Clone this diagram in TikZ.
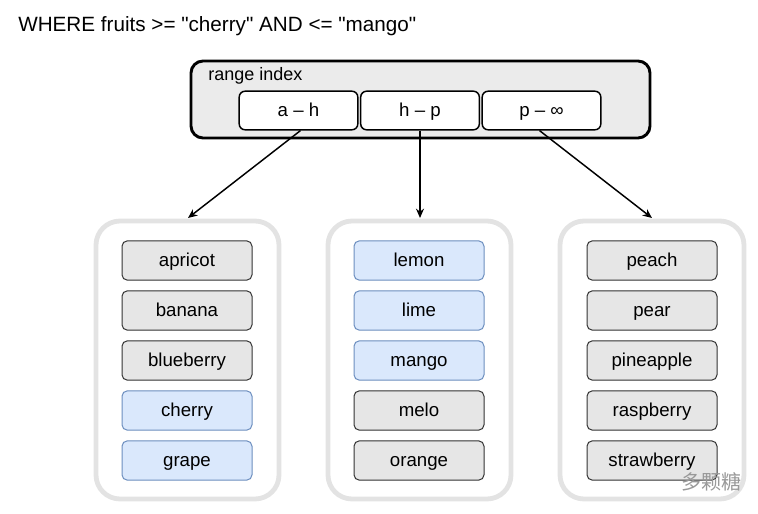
\documentclass[tikz,border=0pt]{standalone}
\usepackage{fontspec}
\setmainfont{Liberation Sans}[Ligatures=TeXOff]
\newfontfamily\cjk{Noto Sans CJK SC}
\usetikzlibrary{arrows.meta}
\definecolor{itemgray}{HTML}{E6E6E6}
\definecolor{itemblue}{HTML}{DAE8FC}
\definecolor{blueedge}{HTML}{6C8EBF}
\definecolor{groupedge}{HTML}{E3E3E3}
\definecolor{idxfill}{HTML}{EBEBEB}
\tikzset{
  px/.style={x=0.75pt,y=-0.75pt},
  grp/.style={draw=groupedge,line width=3.6pt,rounded corners=18pt,fill=white},
  itemg/.style={draw=black!80,line width=0.75pt,fill=itemgray,rounded corners=4pt,minimum width=97.5pt,minimum height=29.5pt,font=\fontsize{14}{16}\selectfont,inner sep=0pt,text height=12pt,text depth=2.5pt},
  itemb/.style={itemg,draw=blueedge,fill=itemblue},
  rng/.style={draw=black,line width=1.1pt,fill=white,rounded corners=4.5pt,minimum width=89pt,minimum height=29pt,font=\fontsize{14}{16}\selectfont,inner sep=0pt,text height=12pt,text depth=2.5pt},
  arr/.style={-{Stealth[length=7pt,width=6pt]},line width=1.1pt}
}
\begin{document}
\begin{tikzpicture}[px]
\useasboundingbox (0,0) rectangle (758,514);
% title
\node[anchor=west,inner sep=0pt,font=\fontsize{15.5}{18}\selectfont] (title) at (18,26) {WHERE fruits >= "cherry" AND <= "mango"};
% range index
\draw[line width=2.2pt,fill=idxfill,rounded corners=9pt] (191,61) rectangle (650,138);
\node[anchor=west,inner sep=0pt,font=\fontsize{13.5}{16}\selectfont] (ridx) at (208,76) {range index};
\node[rng] (ah) at (298.5,110.5) {a – h};
\node[rng] (hp) at (420,110.5) {h – p};
\node[rng] (pinf) at (541.5,110.5) {p – ∞};
% groups
\draw[grp] (96,221) rectangle (279,499);
\draw[grp] (328,221) rectangle (511,499);
\draw[grp] (560,221) rectangle (744,499);
\coordinate (g1) at (188,218);
\coordinate (g2) at (420,218);
\coordinate (g3) at (652,218);
\draw[arr] (ah.south) ++(2,0) coordinate (ahs) -- (g1);
\draw[arr] (hp.south) -- (g2);
\draw[arr] (pinf.south) ++(-2,0) coordinate (ps) -- (g3);
% items left
\node[itemg] (apricot) at (187,260.5) {apricot};
\node[itemg] (banana) at (187,310.5) {banana};
\node[itemg] (blueberry) at (187,360.5) {blueberry};
\node[itemb] (cherry) at (187,410.5) {cherry};
\node[itemb] (grape) at (187,460.5) {grape};
% items middle
\node[itemb] (lemon) at (419,260.5) {lemon};
\node[itemb] (lime) at (419,310.5) {lime};
\node[itemb] (mango) at (419,360.5) {mango};
\node[itemg] (melo) at (419,410.5) {melo};
\node[itemg] (orange) at (419,460.5) {orange};
% items right
\node[itemg] (peach) at (652,260.5) {peach};
\node[itemg] (pear) at (652,310.5) {pear};
\node[itemg] (pineapple) at (652,360.5) {pineapple};
\node[itemg] (raspberry) at (652,410.5) {raspberry};
\node[itemg] (strawberry) at (652,460.5) {strawberry};
% watermark
\node[anchor=west,inner sep=0pt,text=black!40,font=\cjk\fontsize{15}{17}\selectfont] (wm) at (681,482) {多颗糖};
\end{tikzpicture}
\end{document}
